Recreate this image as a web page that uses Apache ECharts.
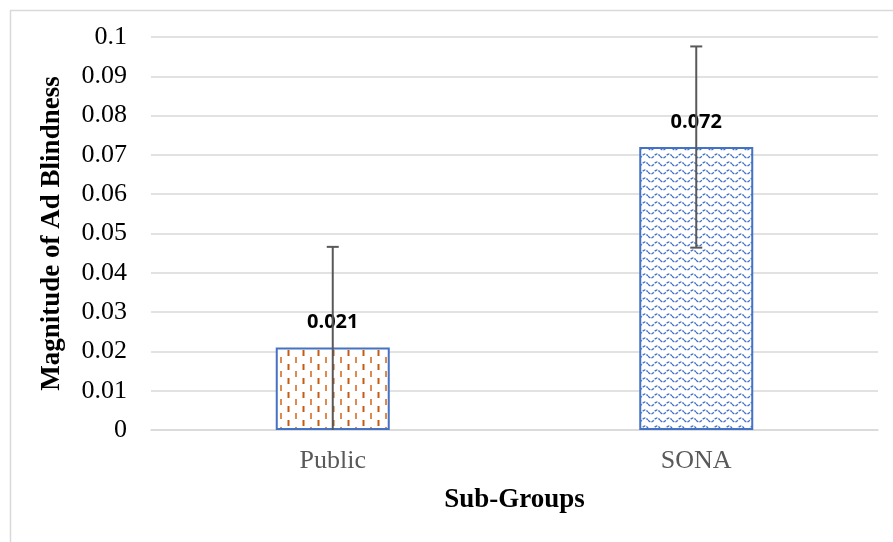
<!DOCTYPE html>
<html>
<head>
<meta charset="utf-8">
<script src="https://cdn.jsdelivr.net/npm/echarts@6/dist/echarts.min.js"></script>
<style>
html,body{margin:0;padding:0;background:#fff;}
#chart{width:893px;height:542px;}
</style>
</head>
<body>
<div id="chart"></div>
<script>
var categories = ['Public', 'SONA'];
var values = [0.021, 0.072];
var errors = [0.0256, 0.0256];
var valueLabels = ['0.021', '0.072'];
var yTickLabels = ['0', '0.01', '0.02', '0.03', '0.04', '0.05', '0.06', '0.07', '0.08', '0.09', '0.1'];
var xTitle = 'Sub-Groups';
var yTitle = 'Magnitude of Ad Blindness';

function publicPattern() {
  var c = document.createElement('canvas');
  c.width = 15; c.height = 14;
  var g = c.getContext('2d');
  g.fillStyle = '#ffffff'; g.fillRect(0, 0, 15, 14);
  g.lineWidth = 2;
  g.strokeStyle = '#c55a11';
  g.beginPath(); g.moveTo(3.5, 0); g.lineTo(3.5, 6); g.stroke();
  g.strokeStyle = '#e08a50';
  g.beginPath(); g.moveTo(11, 7); g.lineTo(11, 13); g.stroke();
  return c;
}
function sonaPattern() {
  var c = document.createElement('canvas');
  c.width = 12; c.height = 7.5;
  c.height = 8;
  var g = c.getContext('2d');
  g.fillStyle = '#ffffff'; g.fillRect(0, 0, 12, 8);
  g.strokeStyle = '#4472c4';
  g.lineWidth = 1.4;
  g.setLineDash([3, 1.2]);
  g.beginPath();
  for (var x = 0; x <= 12; x += 0.5) {
    var y = 4 + 2 * Math.sin(2 * Math.PI * x / 12);
    if (x === 0) g.moveTo(x, y); else g.lineTo(x, y);
  }
  g.stroke();
  return c;
}
var patterns = [publicPattern(), sonaPattern()];

var chart = echarts.init(document.getElementById('chart'), null, {renderer: 'canvas'});
var serif = '"Liberation Serif", "Times New Roman", serif';

var option = {
  animation: false,
  backgroundColor: '#ffffff',
  graphic: [{
    type: 'rect',
    shape: {x: 10.5, y: 10.5, width: 900, height: 560},
    style: {fill: 'none', stroke: '#d9d9d9', lineWidth: 1.5},
    z: -1
  }],
  grid: {left: 151, right: 15, top: 37, bottom: 112},
  xAxis: {
    type: 'category',
    data: categories,
    axisLine: {lineStyle: {color: '#d9d9d9', width: 1.5}},
    axisTick: {show: false},
    axisLabel: {color: '#595959', fontFamily: serif, fontSize: 26, margin: 18},
    name: xTitle,
    nameLocation: 'middle',
    nameGap: 57,
    nameTextStyle: {color: '#000', fontFamily: serif, fontSize: 27, fontWeight: 'bold'}
  },
  yAxis: {
    type: 'value',
    min: 0, max: 0.1, interval: 0.01,
    axisLine: {show: false},
    axisTick: {show: false},
    splitLine: {lineStyle: {color: '#d9d9d9', width: 1.5}},
    axisLabel: {
      color: '#000', fontFamily: serif, fontSize: 26, margin: 24,
      formatter: function (v) { return yTickLabels[Math.round(v * 100)]; }
    },
    name: yTitle,
    nameLocation: 'middle',
    nameGap: 85,
    nameRotate: 90,
    nameTextStyle: {color: '#000', fontFamily: serif, fontSize: 27, fontWeight: 'bold'}
  },
  series: [{
    type: 'bar',
    barWidth: 114,
    data: values.map(function (v, i) {
      return {
        value: v,
        itemStyle: {
          color: {image: patterns[i], repeat: 'repeat'},
          borderColor: '#4472c4',
          borderWidth: 2
        }
      };
    }),
    label: {
      show: true,
      position: 'top',
      distance: 15,
      color: '#000',
      fontFamily: '"Open Sans", sans-serif',
      fontWeight: 'bold',
      fontSize: 20,
      formatter: function (p) { return valueLabels[p.dataIndex]; }
    },
    z: 2
  }, {
    type: 'custom',
    clip: true,
    data: values.map(function (v, i) { return [i, v - errors[i], v + errors[i]]; }),
    renderItem: function (params, api) {
      var i = api.value(0);
      var lo = api.coord([i, api.value(1)]);
      var hi = api.coord([i, api.value(2)]);
      var w = 6;
      var st = {stroke: '#595959', lineWidth: 2};
      return {
        type: 'group',
        children: [
          {type: 'line', shape: {x1: hi[0], y1: hi[1], x2: lo[0], y2: lo[1]}, style: st},
          {type: 'line', shape: {x1: hi[0] - w, y1: hi[1], x2: hi[0] + w, y2: hi[1]}, style: st},
          {type: 'line', shape: {x1: lo[0] - w, y1: lo[1], x2: lo[0] + w, y2: lo[1]}, style: st}
        ]
      };
    },
    z: 3
  }]
};
chart.setOption(option);
</script>
</body>
</html>
